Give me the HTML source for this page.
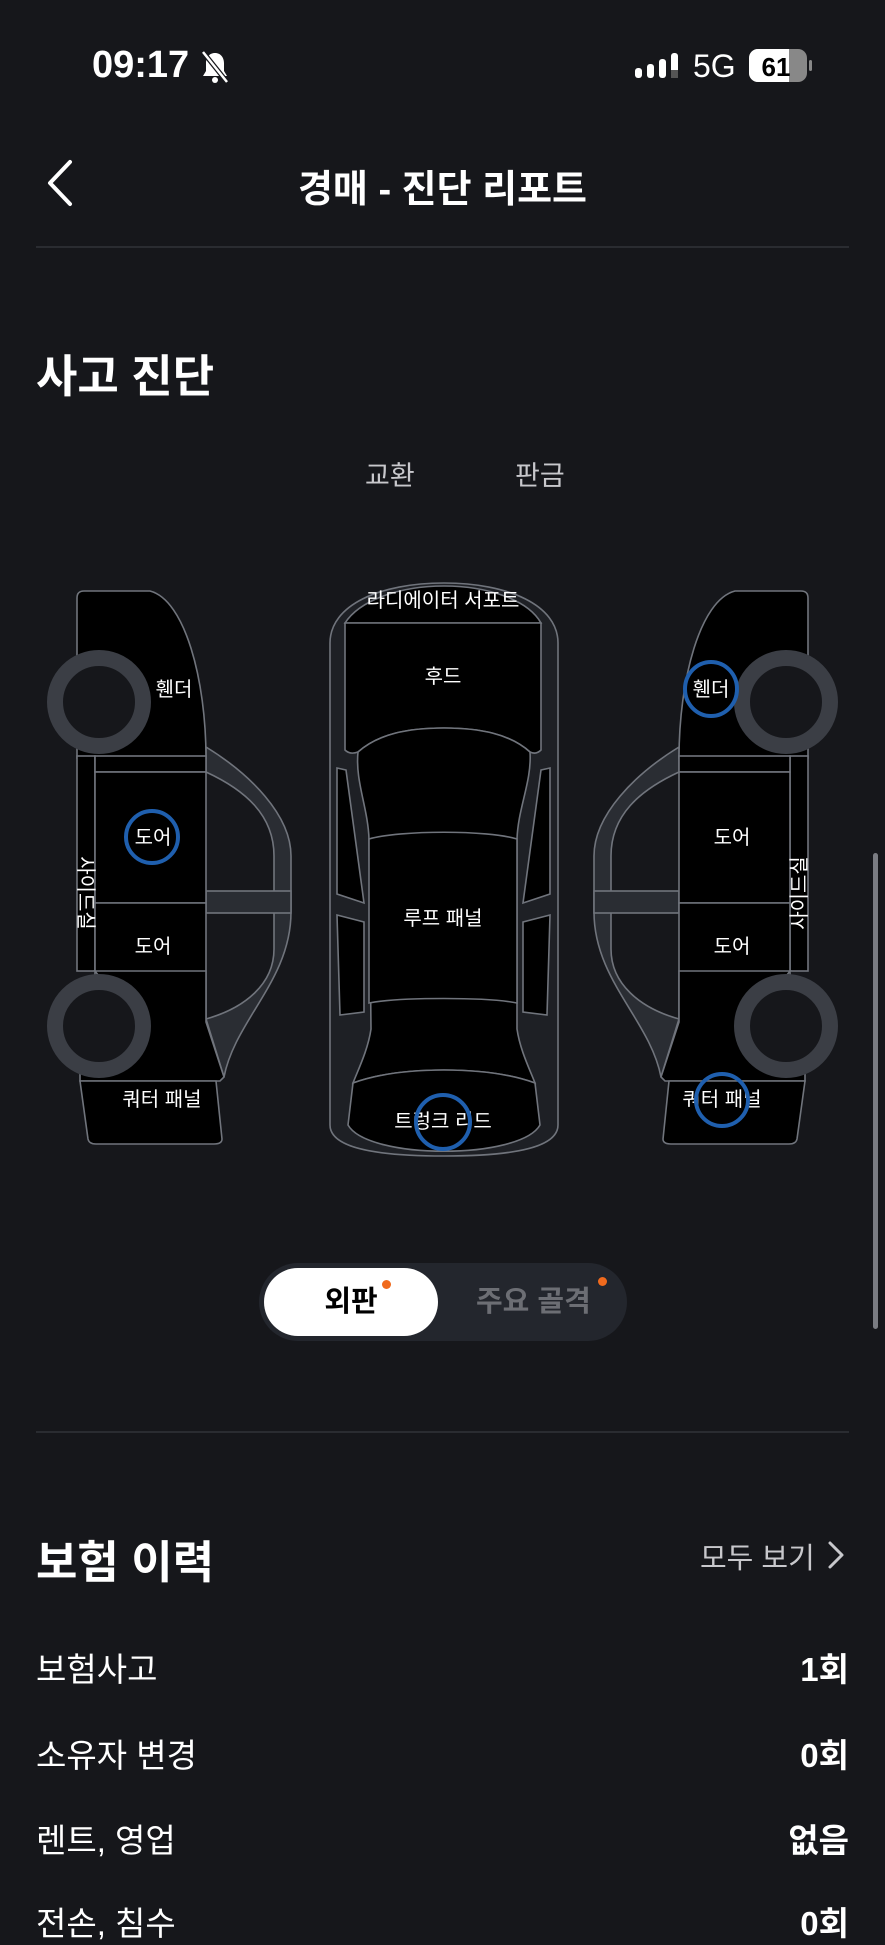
<!DOCTYPE html>
<html><head><meta charset="utf-8"><style>
html,body{margin:0;padding:0;background:#16171b;}
body{width:885px;height:1920px;overflow:hidden;position:relative;font-family:"Liberation Sans","Noto Sans CJK KR",sans-serif;color:#fff;}
.a{position:absolute;white-space:nowrap;}
.row{position:absolute;left:36px;right:36px;font-size:33px;display:flex;justify-content:space-between;}
.row b{font-weight:700;}
</style></head><body>
<div class="a" style="left:92px;top:44px;font-size:38px;font-weight:700;">09:17</div>
<svg class="a" style="left:200px;top:50px" width="30" height="34" viewBox="0 0 30 34"><path d="M15 3c-6 0-9 5-9 10v8l-3 5h24l-3-5v-8c0-5-3-10-9-10z" fill="#fff"/><circle cx="15" cy="30" r="3" fill="#fff"/><line x1="3" y1="2" x2="27" y2="32" stroke="#16171b" stroke-width="5"/><line x1="3" y1="2" x2="27" y2="32" stroke="#fff" stroke-width="2.5"/></svg>
<svg class="a" style="left:634px;top:50px" width="50" height="34"><g fill="#fff"><rect x="1" y="18" width="7" height="10" rx="3"/><rect x="13" y="14" width="7" height="14" rx="3"/><rect x="25" y="9" width="7" height="19" rx="3"/></g><rect x="37" y="3" width="7" height="25" rx="3" fill="#fff"/><rect x="37" y="20" width="7" height="8" fill="#555"/></svg>
<div class="a" style="left:693px;top:48px;font-size:32px;">5G</div>
<svg class="a" style="left:749px;top:49px" width="64" height="34"><rect x="0" y="0" width="58" height="33" rx="9" fill="#888"/><path d="M9 0H40V33H9A9 9 0 0 1 0 24V9A9 9 0 0 1 9 0Z" fill="#fff"/><rect x="60" y="11" width="3" height="11" rx="1.5" fill="#888"/><text x="27" y="27" font-size="26" font-weight="700" text-anchor="middle" fill="#000" font-family="Liberation Sans">61</text></svg>
<svg class="a" style="left:40px;top:158px" width="40" height="50"><path d="M30 4L10 25L30 46" fill="none" stroke="#fff" stroke-width="4" stroke-linecap="round" stroke-linejoin="round"/></svg>
<div class="a" style="left:0;width:885px;text-align:center;top:158px;font-size:38px;font-weight:700;">경매 - 진단 리포트</div>
<div class="a" style="left:36px;width:813px;top:246px;height:2px;background:#2a2c31;"></div>
<div class="a" style="left:36px;top:340px;font-size:45px;font-weight:700;">사고 진단</div>
<div class="a" style="left:365px;top:454px;font-size:27px;color:#c8c8cc;">교환</div>
<div class="a" style="left:515px;top:454px;font-size:27px;color:#c8c8cc;">판금</div>

<svg class="a" style="left:0;top:0" width="885" height="1920" font-family="Liberation Sans,Noto Sans CJK KR,sans-serif">
<defs>
<g id="side" stroke="#70747c" stroke-width="1.6">
 <path d="M206,747 C250,774 291,815 291,856 L291,912 C291,980 235,1020 224,1077 L206,1019 C245,1008 274,984 274,949 L274,856 C274,815 245,790 206,772 Z" fill="#2a2d33"/>
 <rect x="206" y="891" width="85" height="22" fill="#2a2d33"/>
 <path d="M84,591 H150 C185,600 206,680 206,758 H77 V598 Q77,591 84,591 Z" fill="#000"/>
 <rect x="77" y="756" width="18" height="215" fill="#000"/>
 <rect x="95" y="756" width="111" height="16" fill="#000"/>
 <rect x="95" y="772" width="111" height="131" fill="#000"/>
 <path d="M95,903 H206 V1024 C200,1030 190,1028 180,1020 C160,1003 140,984 95,984 Z" fill="#000"/>
 <path d="M95,971 H206 L206,1022 L224,1077 L220,1081 H80 V1063 C110,1050 120,1000 95,971Z" fill="#000"/>
 <path d="M80,1081 L216,1081 L222,1139 Q222,1144 214,1144 L96,1144 Q89,1144 88,1139 Z" fill="#000"/>
 <circle cx="99" cy="702" r="44" fill="#16171b" stroke="#3b3e45" stroke-width="16"/>
 <circle cx="99" cy="1026" r="44" fill="#16171b" stroke="#3b3e45" stroke-width="16"/>
</g>
</defs>
<use href="#side"/>
<use href="#side" transform="translate(885,0) scale(-1,1)"/>
<g stroke="#70747c" stroke-width="1.6">
 <path d="M330,643 C330,605 380,583 444,583 C508,583 558,605 558,643 L558,1125 C558,1146 520,1156 444,1156 C368,1156 330,1146 330,1125 Z" fill="#1e2025"/>
 <path d="M345,623 C360,600 400,586 444,586 C488,586 528,600 541,623 Z" fill="#000"/>
 <path d="M345,623 H541 V750 Q536,755 530,752 C510,734 480,728 444,728 C408,728 378,734 358,752 Q350,755 345,750 Z" fill="#000"/>
 <path d="M358,752 C378,734 408,728 444,728 C480,728 510,734 530,752 C532,781 518,808 517,839 L517,1029 C520,1050 530,1070 535,1083 C510,1074 480,1070 444,1070 C408,1070 378,1074 353,1083 C358,1070 368,1050 371,1029 L369,839 C368,808 355,781 358,752 Z" fill="#000"/>
 <path d="M369,839 C400,830 488,830 517,839 L517,1003 C488,997 400,997 369,1003 Z" fill="#000"/>
 <path d="M353,1083 C378,1074 408,1070 444,1070 C480,1070 510,1074 535,1083 L540,1125 C520,1160 368,1160 348,1125 Z" fill="#000"/>
 <path d="M337,768 L346,770 L364,903 L337,894 Z" fill="#000"/>
 <path d="M337,915 L364,922 L364,1012 L340,1015 Z" fill="#000"/>
 <path d="M550,768 L541,770 L523,903 L550,894 Z" fill="#000"/>
 <path d="M550,915 L523,922 L523,1012 L547,1015 Z" fill="#000"/>
</g>
<g fill="#fff" font-size="20" text-anchor="middle">
 <text x="443" y="607">라디에이터 서포트</text>
 <text x="443" y="683">후드</text>
 <text x="443" y="925">루프 패널</text>
 <text x="443" y="1128">트렁크 리드</text>
 <text x="174" y="696">휀더</text>
 <text x="153" y="844">도어</text>
 <text x="153" y="953">도어</text>
 <text x="162" y="1106">쿼터 패널</text>
 <text x="711" y="696">휀더</text>
 <text x="732" y="844">도어</text>
 <text x="732" y="953">도어</text>
 <text x="722" y="1106">쿼터 패널</text>
</g>
<text x="0" y="7" fill="#fff" font-size="20" text-anchor="middle" transform="translate(86,893) rotate(90)">사이드실</text>
<text x="0" y="7" fill="#fff" font-size="20" text-anchor="middle" transform="translate(799,893) rotate(-90)">사이드실</text>
<g fill="none" stroke="#1f5fae" stroke-width="4">
 <circle cx="152" cy="837" r="26"/>
 <ellipse cx="711" cy="689" rx="26" ry="27"/>
 <circle cx="443" cy="1122" r="27"/>
 <circle cx="722" cy="1100" r="26"/>
</g>
</svg>

<div class="a" style="left:259px;top:1263px;width:368px;height:78px;border-radius:39px;background:#23262d;"></div>
<div class="a" style="left:264px;top:1268px;width:174px;height:68px;border-radius:34px;background:#fff;color:#000;font-size:29px;font-weight:700;text-align:center;line-height:68px;">외판</div>
<div class="a" style="left:382px;top:1280px;width:9px;height:9px;border-radius:50%;background:#f06a1d;"></div>
<div class="a" style="left:476px;top:1268px;font-size:29px;font-weight:700;color:#6c6e74;line-height:68px;">주요 골격</div>
<div class="a" style="left:598px;top:1277px;width:9px;height:9px;border-radius:50%;background:#f06a1d;"></div>

<div class="a" style="left:36px;width:813px;top:1431px;height:2px;background:#2a2c31;"></div>
<div class="a" style="left:36px;top:1526px;font-size:45px;font-weight:700;">보험 이력</div>
<div class="a" style="left:700px;top:1535px;font-size:29px;color:#c8c8cc;">모두 보기</div>
<svg class="a" style="left:824px;top:1538px" width="24" height="34"><path d="M6 5L18 17L6 29" fill="none" stroke="#c8c8cc" stroke-width="3" stroke-linecap="round" stroke-linejoin="round"/></svg>
<div class="row" style="top:1643px;"><span>보험사고</span><b>1회</b></div>
<div class="row" style="top:1729px;"><span>소유자 변경</span><b>0회</b></div>
<div class="row" style="top:1814px;"><span>렌트, 영업</span><b>없음</b></div>
<div class="row" style="top:1897px;"><span>전손, 침수</span><b>0회</b></div>
<div class="a" style="left:873px;top:853px;width:5px;height:476px;border-radius:3px;background:#7a7c82;"></div>
</body></html>
